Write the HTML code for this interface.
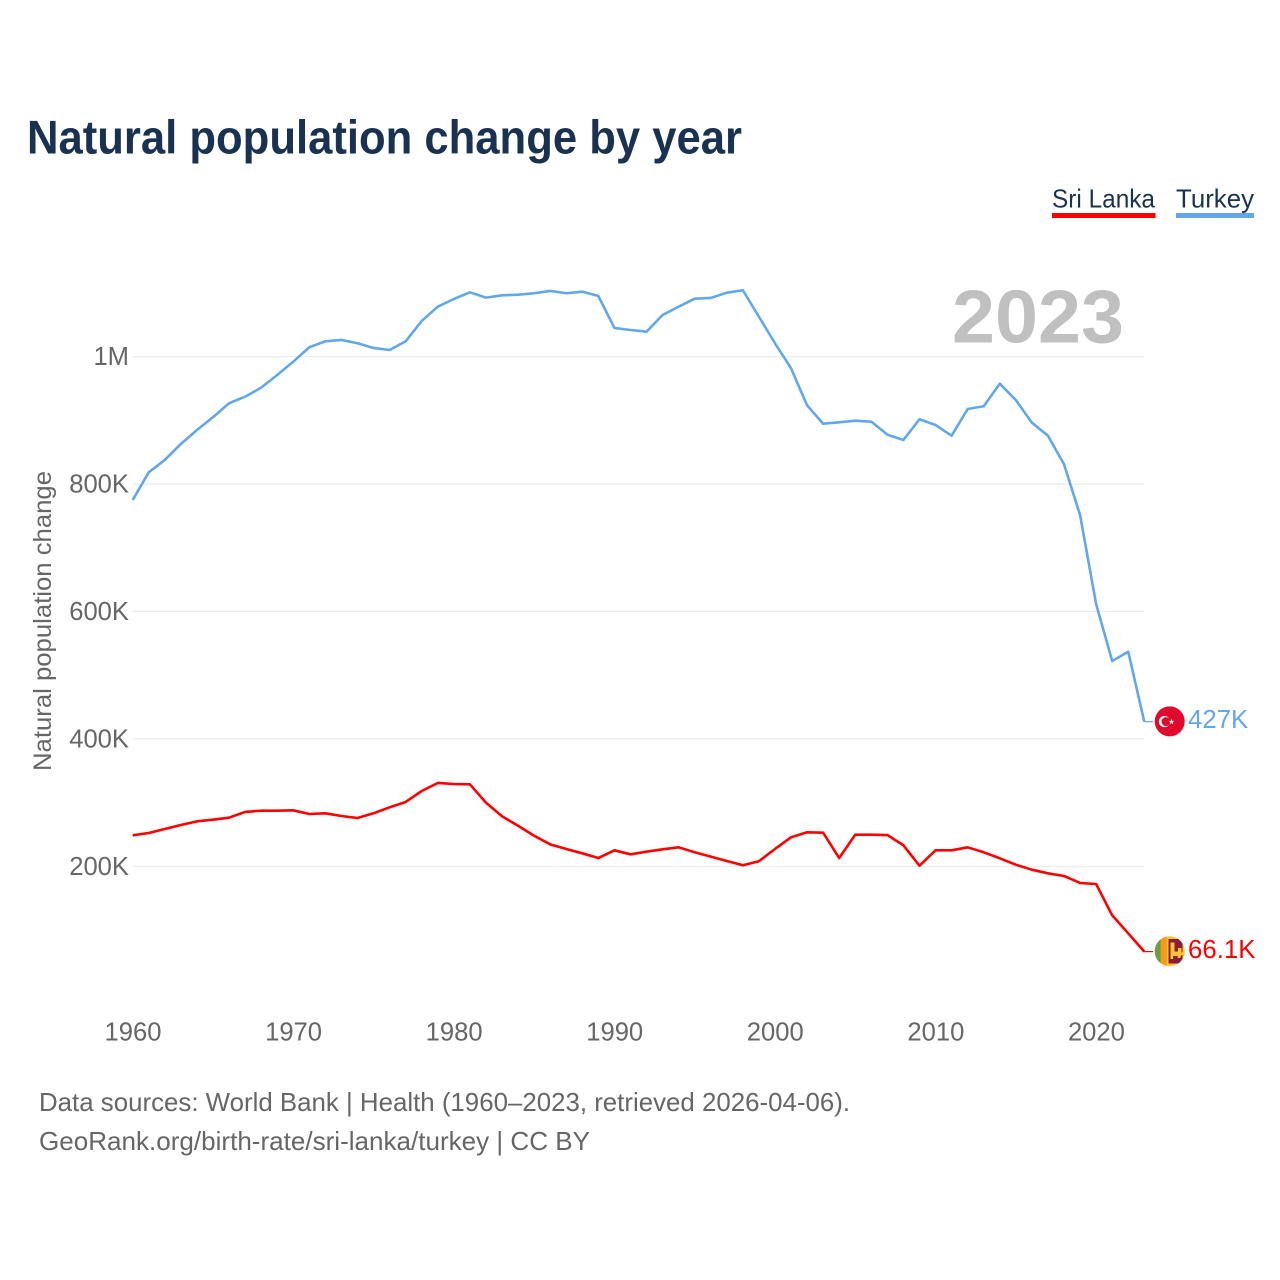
<!DOCTYPE html>
<html lang="en">
<head>
<meta charset="utf-8">
<title>Natural population change by year</title>
<style>
html,body{margin:0;padding:0;background:#fff;}
svg{display:block;font-family:"Liberation Sans",Arial,sans-serif;}
</style>
</head>
<body>
<svg id="chart" xmlns="http://www.w3.org/2000/svg" width="1280" height="1280" viewBox="0 0 1280 1280">
  <defs>
    <clipPath id="flag-clip-tr"><circle cx="1169.7" cy="721.4" r="15"/></clipPath>
    <clipPath id="flag-clip-lk"><circle cx="1169.7" cy="951.3" r="15"/></clipPath>
  </defs>
  <rect width="1280" height="1280" fill="#fff"/>
  <text x="27" y="153.5" font-size="47" font-weight="700" fill="#1a3252" textLength="715" lengthAdjust="spacingAndGlyphs">Natural population change by year</text>

  <g>
    <g>
      <text x="1052" y="207.3" font-size="26" fill="#1a3252" textLength="103" lengthAdjust="spacingAndGlyphs">Sri Lanka</text>
      <rect x="1052" y="213" width="103.6" height="5" fill="#ff0000"/>
    </g>
    <g>
      <text x="1176" y="207.3" font-size="26" fill="#1a3252" textLength="78" lengthAdjust="spacingAndGlyphs">Turkey</text>
      <rect x="1176" y="213" width="78" height="5" fill="#63a7eb"/>
    </g>
  </g>

  <g id="grid"></g>
  <g id="y-labels"></g>
  <g id="x-labels"></g>

  <text x="952" y="342.5" font-size="75" font-weight="700" fill="#c0c0c0" textLength="172" lengthAdjust="spacingAndGlyphs">2023</text>
  <text transform="translate(51,771) rotate(-90)" font-size="25" fill="#666" textLength="300" lengthAdjust="spacingAndGlyphs">Natural population change</text>

  <g id="series"></g>

  <g id="flag-tr" clip-path="url(#flag-clip-tr)">
    <rect x="1154" y="705" width="32" height="33" fill="#df0a2c"/>
    <circle cx="1164.5" cy="721.6" r="5.6" fill="#fff"/>
    <circle cx="1166" cy="721.6" r="4.5" fill="#df0a2c"/>
    <polygon points="1171.5,718.8 1172.2,720.9 1174.4,720.9 1172.6,722.2 1173.3,724.3 1171.5,723 1169.7,724.3 1170.4,722.2 1168.6,720.9 1170.8,720.9" fill="#fff"/>
  </g>

  <g id="flag-lk" clip-path="url(#flag-clip-lk)">
    <rect x="1154" y="935" width="32" height="33" fill="#fcc72e"/>
    <rect x="1154" y="935" width="6.8" height="33" fill="#6d9e46"/>
    <rect x="1160.8" y="935" width="6" height="33" fill="#f59a1d"/>
    <rect x="1168.5" y="939" width="14" height="24.5" fill="#8d1b3d"/>
    <path d="M1170.5 942.5h4v9h3.5v-3.5h3.5v4.5l3.5-1v3.5h-3.5l-1.4 3h-2.4v-2h-4.6v3h-2.6z" fill="#fcc72e"/>
  </g>

  <text x="39" y="1111" font-size="26" fill="#666" textLength="811" lengthAdjust="spacingAndGlyphs">Data sources: World Bank | Health (1960–2023, retrieved 2026-04-06).</text>
  <text x="39" y="1150" font-size="26" fill="#666" textLength="551" lengthAdjust="spacingAndGlyphs">GeoRank.org/birth-rate/sri-lanka/turkey | CC BY</text>
</svg>

<script>
const startYear = 1960;
const xTicks = [1960, 1970, 1980, 1990, 2000, 2010, 2020];
const yTicks = [200000, 400000, 600000, 800000, 1000000];
const yTickLabels = ['200K', '400K', '600K', '800K', '1M'];

const turkeyValues = [
  775100, 818500, 837900, 863000, 884900, 904900, 926900, 937200, 951400, 971300,
  992200, 1014800, 1024200, 1026300, 1021100, 1013700, 1010500, 1024200, 1056100, 1078500,
  1090600, 1101100, 1092700, 1096400, 1097400, 1099600, 1103200, 1099600, 1102100, 1095300,
  1045100, 1041900, 1039300, 1065500, 1078500, 1091100, 1092200, 1100500, 1104300, 1062800,
  1021100, 981800, 923700, 894800, 897000, 899600, 898000, 877600, 869300, 901800,
  892800, 876000, 917900, 922200, 957600, 932000, 896400, 876000, 831100, 751500,
  611800, 522300, 536900, 427000
];
const sriLankaValues = [
  248700, 252300, 258600, 264800, 270600, 273200, 276300, 285300, 287300, 287300,
  287900, 282100, 283200, 279000, 275800, 283200, 292600, 301000, 318200, 330800,
  329200, 328700, 299900, 278500, 263700, 248000, 234500, 227200, 220400, 213000,
  225100, 218800, 222900, 226700, 229800, 222000, 215100, 208300, 201600, 207900,
  227200, 245500, 253400, 252800, 213000, 249600, 249600, 249100, 233000, 200900,
  225100, 225100, 229800, 222000, 212600, 202500, 194700, 189000, 184800, 173800,
  172200, 123100, 94800, 66100
];
const turkeyLastLabel = '427K';
const sriLankaLastLabel = '66.1K';

const NS = 'http://www.w3.org/2000/svg';
const xScale = function (year) { return 132.7 + (year - 1960) * 16.057; };
const yScale = function (value) { return 993.7 - value * 127.4 / 200000; };
const plotRight = xScale(startYear + 63);
const connectorEnd = 1153;

function make(tag, parent, attrs) {
  const el = document.createElementNS(NS, tag);
  Object.keys(attrs).forEach(function (k) { el.setAttribute(k, attrs[k]); });
  parent.appendChild(el);
  return el;
}

const grid = document.getElementById('grid');
const yLabels = document.getElementById('y-labels');
yTicks.forEach(function (value, i) {
  const line = make('line', grid, { x1: xScale(startYear), x2: plotRight, y1: yScale(value), y2: yScale(value), stroke: '#ebebeb', 'stroke-width': 1.2 });
  
  
  const label = make('text', yLabels, { x: 129, y: yScale(value) + 8.5, 'text-anchor': 'end', 'font-size': 25.6, fill: '#666' });
  label.textContent = yTickLabels[i];
  
  
});

const xLabels = document.getElementById('x-labels');
xTicks.forEach(function (year) {
  const label = make('text', xLabels, { x: xScale(year) + 0.3, y: 1040.5, 'text-anchor': 'middle', 'font-size': 25.6, fill: '#666' });
  label.textContent = String(year);
  
  
});

const seriesGroup = document.getElementById('series');
function drawSeries(values, color, lastLabel, labelX) {
  const pts = values.map(function (v, i) { return xScale(startYear + i).toFixed(2) + ',' + yScale(v).toFixed(2); }).join(' ');
  const line = make('polyline', seriesGroup, { points: pts, fill: 'none', stroke: color, 'stroke-width': 2.6, 'stroke-linejoin': 'round' });
  
  
  const lastY = yScale(values[values.length - 1]);
  const connector = make('line', seriesGroup, { x1: plotRight, x2: connectorEnd, y1: lastY, y2: lastY, stroke: color, 'stroke-width': 1.2 });
  
  
  const label = make('text', seriesGroup, { x: labelX, y: lastY + 6.5, 'font-size': 25.8, fill: color });
  label.textContent = lastLabel;
  
  
}
drawSeries(turkeyValues, '#63a7eb', turkeyLastLabel, 1188);
drawSeries(sriLankaValues, '#ff0000', sriLankaLastLabel, 1188);
</script>
</body>
</html>
